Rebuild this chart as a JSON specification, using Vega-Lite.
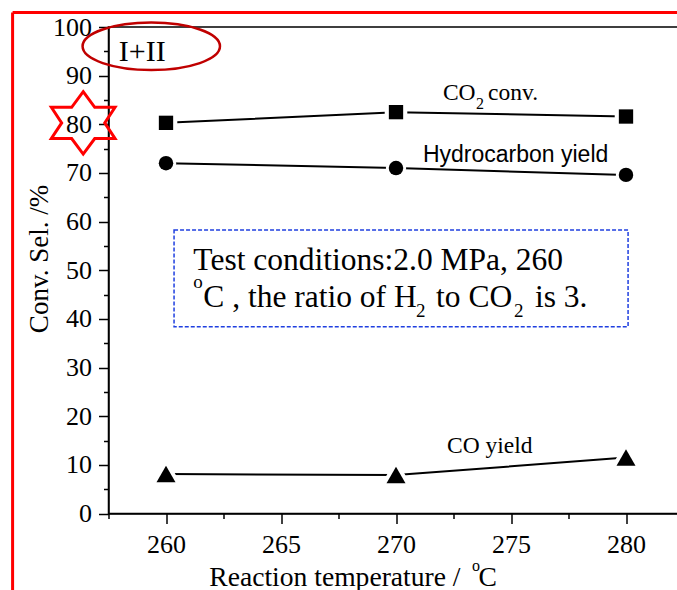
{
  "$schema": "https://vega.github.io/schema/vega-lite/v6.json",
  "width": 575,
  "height": 486.5,
  "autosize": "none",
  "padding": {"left": 108.5, "top": 27, "right": 0, "bottom": 76.5},
  "background": "white",
  "config": {"view": {"stroke": "black", "strokeWidth": 1.5}, "font": "Liberation Serif"},
  "datasets": {
    "pts": [
      {"series": "CO2 conv.", "T": 260, "v": 80.3},
      {"series": "CO2 conv.", "T": 270, "v": 82.5},
      {"series": "CO2 conv.", "T": 280, "v": 81.6},
      {"series": "Hydrocarbon yield", "T": 260, "v": 72.0},
      {"series": "Hydrocarbon yield", "T": 270, "v": 71.0},
      {"series": "Hydrocarbon yield", "T": 280, "v": 69.6},
      {"series": "CO yield", "T": 260, "v": 8.1},
      {"series": "CO yield", "T": 270, "v": 7.9},
      {"series": "CO yield", "T": 280, "v": 11.5}
    ],
    "frame": [
      {"T": 253.33, "v": 102.98, "T2": 300, "v2": 102.98},
      {"T": 253.33, "v": 102.98, "T2": 253.33, "v2": -20}
    ],
    "box": [{"T": 260.35, "v": 58.27, "T2": 280.09, "v2": 38.4}],
    "star": [{"T": 256.4, "v": 80.29}],
    "ellipse": [{"T": 259.36, "v": 96.03}],
    "big": [{"T": 257.95, "v": 93.0, "label": "I+II"}],
    "seriesLabels": [
      {"T": 272.04, "v": 85.0, "label": "CO"},
      {"T": 274.0, "v": 85.0, "label": "conv."},
      {"T": 272.22, "v": 12.37, "label": "CO yield"}
    ],
    "seriesSub": [{"T": 273.48, "v": 83.15, "label": "2"}],
    "sansLabels": [{"T": 271.17, "v": 72.26, "label": "Hydrocarbon yield"}],
    "boxText": [
      {"T": 261.19, "v": 50.05, "label": "Test conditions:2.0 MPa, 260"},
      {"T": 261.62, "v": 42.38, "label": "C , the ratio of H"},
      {"T": 271.74, "v": 42.38, "label": "to CO"},
      {"T": 276.04, "v": 42.38, "label": "is 3."}
    ],
    "boxSmall": [
      {"T": 261.18, "v": 46.29, "label": "o"},
      {"T": 270.87, "v": 40.45, "label": "2"},
      {"T": 275.13, "v": 40.45, "label": "2"}
    ],
    "xTitle": [
      {"T": 261.88, "v": -14.84, "label": "Reaction temperature /"},
      {"T": 273.59, "v": -14.84, "label": "C"}
    ],
    "xTitleSup": [{"T": 273.3, "v": -11.8, "label": "o"}]
  },
  "encoding": {
    "x": {
      "field": "T", "type": "quantitative",
      "scale": {"domain": [257.5, 282.5], "nice": false, "zero": false},
      "axis": {
        "title": null,
        "values": [257.5, 260, 262.5, 265, 267.5, 270, 272.5, 275, 277.5, 280, 282.5],
        "labelExpr": "datum.value % 5 === 0 ? datum.label : ''",
        "grid": false,
        "domainColor": "black", "domainWidth": 1.5,
        "tickColor": "black", "tickWidth": 1.5,
        "tickSize": {"condition": {"test": "datum.value % 5 === 0", "value": 10}, "value": 5},
        "labelFont": "Liberation Serif", "labelFontSize": 26, "labelColor": "black",
        "labelPadding": 8, "labelFlush": false, "labelOverlap": false
      }
    },
    "y": {
      "field": "v", "type": "quantitative",
      "scale": {"domain": [0, 100], "nice": false, "zero": false},
      "axis": {
        "title": "Conv. Sel. /%",
        "values": [0, 5, 10, 15, 20, 25, 30, 35, 40, 45, 50, 55, 60, 65, 70, 75, 80, 85, 90, 95, 100],
        "labelExpr": "datum.value % 10 === 0 ? datum.label : ''",
        "grid": false,
        "domainColor": "black", "domainWidth": 1.5,
        "tickColor": "black", "tickWidth": 1.5,
        "tickSize": {"condition": {"test": "datum.value % 10 === 0", "value": 10}, "value": 5},
        "labelFont": "Liberation Serif", "labelFontSize": 26, "labelColor": "black",
        "labelPadding": 7, "labelFlush": false, "labelOverlap": false,
        "titleFont": "Liberation Serif", "titleFontSize": 27, "titleFontWeight": "normal", "titleColor": "black",
        "titleX": -69.5, "titleY": 231.5, "titleBaseline": "middle", "titleAlign": "center", "titleAngle": -90
      }
    }
  },
  "layer": [
    {
      "data": {"name": "frame"},
      "mark": {"type": "rule", "color": "#ff0000", "strokeWidth": 3},
      "encoding": {"x2": {"field": "T2"}, "y2": {"field": "v2"}}
    },
    {
      "data": {"name": "box"},
      "mark": {"type": "rect", "fill": null, "fillOpacity": 0, "stroke": "#1f3fe0", "strokeWidth": 1.5, "strokeDash": [4, 2]},
      "encoding": {"x2": {"field": "T2"}, "y2": {"field": "v2"}}
    },
    {
      "data": {"name": "pts"},
      "mark": {"type": "line", "color": "black", "strokeWidth": 2},
      "encoding": {"detail": {"field": "series"}, "order": {"field": "T"}}
    },
    {
      "data": {"name": "pts"},
      "mark": {"type": "point", "filled": true, "color": "white", "opacity": 1},
      "encoding": {
        "shape": {"field": "series", "scale": {"domain": ["CO2 conv.", "Hydrocarbon yield", "CO yield"], "range": ["square", "circle", "triangle-up"]}, "legend": null},
        "size": {"condition": [{"test": "datum.series === 'CO yield'", "value": 1369}, {"test": "datum.series === 'CO2 conv.'", "value": 510}], "value": 415}
      }
    },
    {
      "data": {"name": "pts"},
      "mark": {"type": "point", "filled": true, "color": "black", "opacity": 1},
      "encoding": {
        "shape": {"field": "series", "scale": {"domain": ["CO2 conv.", "Hydrocarbon yield", "CO yield"], "range": ["square", "circle", "triangle-up"]}, "legend": null},
        "size": {"condition": [{"test": "datum.series === 'CO yield'", "value": 361}, {"test": "datum.series === 'CO2 conv.'", "value": 205}], "value": 209}
      }
    },
    {
      "data": {"name": "star"},
      "mark": {"type": "point", "filled": false, "stroke": "#ff0000", "strokeWidth": 3, "size": 3894, "opacity": 1,
        "shape": "M0,-1 L0.37,-0.5 L1.02,-0.5 L0.69,0 L1.02,0.5 L0.37,0.5 L0,1 L-0.37,0.5 L-1.02,0.5 L-0.69,0 L-1.02,-0.5 L-0.37,-0.5 Z"}
    },
    {
      "data": {"name": "ellipse"},
      "mark": {"type": "point", "filled": false, "stroke": "#c00000", "strokeWidth": 2.5, "size": 18879, "opacity": 1,
        "shape": "M-1,0 A1,0.345 0 1,1 1,0 A1,0.345 0 1,1 -1,0 Z"}
    },
    {
      "data": {"name": "big"},
      "mark": {"type": "text", "font": "Liberation Serif", "fontSize": 30, "align": "left", "baseline": "alphabetic", "color": "black"},
      "encoding": {"text": {"field": "label"}}
    },
    {
      "data": {"name": "seriesLabels"},
      "mark": {"type": "text", "font": "Liberation Serif", "fontSize": 23.5, "align": "left", "baseline": "alphabetic", "color": "black"},
      "encoding": {"text": {"field": "label"}}
    },
    {
      "data": {"name": "seriesSub"},
      "mark": {"type": "text", "font": "Liberation Serif", "fontSize": 16, "align": "left", "baseline": "alphabetic", "color": "black"},
      "encoding": {"text": {"field": "label"}}
    },
    {
      "data": {"name": "sansLabels"},
      "mark": {"type": "text", "font": "Liberation Sans", "fontSize": 23, "align": "left", "baseline": "alphabetic", "color": "black"},
      "encoding": {"text": {"field": "label"}}
    },
    {
      "data": {"name": "boxText"},
      "mark": {"type": "text", "font": "Liberation Serif", "fontSize": 31.5, "align": "left", "baseline": "alphabetic", "color": "black"},
      "encoding": {"text": {"field": "label"}}
    },
    {
      "data": {"name": "boxSmall"},
      "mark": {"type": "text", "font": "Liberation Serif", "fontSize": 19, "align": "left", "baseline": "alphabetic", "color": "black"},
      "encoding": {"text": {"field": "label"}}
    },
    {
      "data": {"name": "xTitle"},
      "mark": {"type": "text", "font": "Liberation Serif", "fontSize": 27.6, "align": "left", "baseline": "alphabetic", "color": "black"},
      "encoding": {"text": {"field": "label"}}
    },
    {
      "data": {"name": "xTitleSup"},
      "mark": {"type": "text", "font": "Liberation Serif", "fontSize": 16, "align": "left", "baseline": "alphabetic", "color": "black"},
      "encoding": {"text": {"field": "label"}}
    }
  ]
}
